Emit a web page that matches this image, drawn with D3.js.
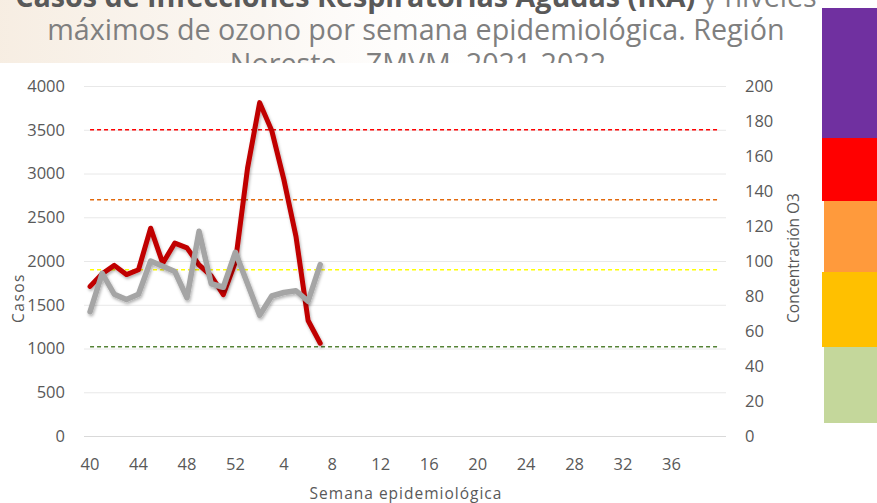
<!DOCTYPE html>
<html>
<head>
  <meta charset="utf-8" />
  <title>IRA y ozono - Región Noreste ZMVM</title>
  <script src="https://d3js.org/d3.v7.min.js"></script>
  <style>
    body {
      margin: 0;
      background: #fff;
    }
    svg {
      display: block;
      font-family: "Open Sans", sans-serif;
    }
    .tick-label {
      font-size: 16.5px;
      fill: #595959;
    }
    .axis-title {
      font-size: 15.5px;
      fill: #595959;
    }
    .grid {
      stroke-width: 1;
    }
  </style>
</head>
<body>

<svg width="877" height="503"></svg>

<script>
  // semanas epidemiológicas (40 de 2021 a 40 de 2022)
  const semanas = [40, 41, 42, 43, 44, 45, 46, 47, 48, 49, 50, 51, 52,
                   1, 2, 3, 4, 5, 6, 7, 8, 9, 10, 11, 12, 13, 14, 15, 16, 17, 18, 19, 20,
                   21, 22, 23, 24, 25, 26, 27, 28, 29, 30, 31, 32, 33, 34, 35, 36, 37, 38, 39, 40];

  // casos de IRA (eje izquierdo)
  const casos = [1710, 1855, 1950, 1845, 1900, 2375, 1975, 2205, 2150, 1955, 1830, 1615, 1990,
                 3060, 3810, 3490, 2930, 2280, 1320, 1060];

  // concentración máxima de ozono, ppb (eje derecho)
  const ozono = [71, 93, 81, 78, 81, 100, 97, 94, 79, 117, 87, 85, 105,
                 87, 69, 80, 82, 83, 77, 98];

  // límites del índice AIRE y SALUD para ozono (eje derecho)
  const limites = [175, 135, 95, 51];
  const limiteColores = ["#ff0000", "#e2690d", "#ffff00", "#548235"];

  const ticksCasos = [0, 500, 1000, 1500, 2000, 2500, 3000, 3500, 4000];
  const ticksO3 = [0, 20, 40, 60, 80, 100, 120, 140, 160, 180, 200];

  const bandaColores = ["#7030a0", "#ff0000", "#ff9a3c", "#ffc000", "#c4d79b"];

  const svg = d3.select("svg");
  const plotL = 84, plotR = 726, plotT = 86, plotB = 436;

  const x = d3.scalePoint()
    .domain(d3.range(semanas.length))
    .range([plotL, plotR])
    .padding(0.5);

  const yL = d3.scaleLinear().domain([0, 4000]).range([plotB, plotT]);
  const yR = d3.scaleLinear().domain([0, 200]).range([plotB, plotT]);

  // fondo tenue del encabezado
  const defs = svg.append("defs");
  const grad = defs.append("linearGradient").attr("id", "fondo");
  grad.append("stop").attr("offset", "0%").attr("stop-color", "#f3e6d6").attr("stop-opacity", 0.7);
  grad.append("stop").attr("offset", "30%").attr("stop-color", "#f7efe6").attr("stop-opacity", 0.5);
  grad.append("stop").attr("offset", "60%").attr("stop-color", "#ffffff").attr("stop-opacity", 0);
  svg.append("rect").attr("x", 0).attr("y", 0).attr("width", 877).attr("height", 64)
    .attr("fill", "url(#fondo)");

  const sombra = defs.append("filter").attr("id", "sombra")
    .attr("x", "-10%").attr("y", "-10%").attr("width", "120%").attr("height", "120%");
  sombra.append("feDropShadow")
    .attr("dx", 1).attr("dy", 2).attr("stdDeviation", 1.8)
    .attr("flood-color", "#000").attr("flood-opacity", 0.3);

  // título
  const title = svg.append("g").attr("text-anchor", "middle");
  const t2 = title.append("text")
    .attr("x", 416).attr("y", 40)
    .attr("fill", "#7f7f7f")
    .attr("font-size", 26)
    .text("máximos de ozono por semana epidemiológica. Región");
  const fs = 26 * 738 / t2.node().getComputedTextLength();
  t2.attr("font-size", fs);

  const t1 = title.append("text")
    .attr("x", 416).attr("y", 7)
    .attr("font-size", fs);
  t1.append("tspan").attr("font-weight", "bold").attr("fill", "#595959")
    .text("Casos de Infecciones Respiratorias Agudas (IRA)");
  t1.append("tspan").attr("fill", "#7f7f7f").text(" y niveles");

  title.append("text")
    .attr("x", 418).attr("y", 74)
    .attr("fill", "#7f7f7f")
    .attr("font-size", fs)
    .text("Noreste – ZMVM, 2021-2022");

  // área del gráfico
  svg.append("rect").attr("x", 0).attr("y", 63).attr("width", 818).attr("height", 440)
    .attr("fill", "#fff");

  // bandas de color del índice
  const bandaY = [8, 138, 201, 272, 347, 423];
  const bandaX = [822, 822, 824, 822, 824];
  svg.append("g").selectAll("rect")
    .data(bandaColores)
    .join("rect")
    .attr("x", (d, i) => bandaX[i])
    .attr("y", (d, i) => bandaY[i])
    .attr("width", (d, i) => 877 - bandaX[i])
    .attr("height", (d, i) => bandaY[i + 1] - bandaY[i])
    .attr("fill", d => d);

  // rejilla
  svg.append("g").selectAll("line")
    .data(ticksCasos)
    .join("line")
    .attr("class", "grid")
    .attr("x1", plotL).attr("x2", plotR)
    .attr("y1", d => yL(d) + 0.5).attr("y2", d => yL(d) + 0.5)
    .attr("stroke", d => d === 0 ? "#d9d9d9" : "#e8e8e8");

  // etiquetas de ejes
  svg.append("g").selectAll("text")
    .data(ticksCasos)
    .join("text")
    .attr("class", "tick-label")
    .attr("text-anchor", "end")
    .attr("x", 65)
    .attr("y", d => yL(d))
    .attr("dy", "0.36em")
    .text(d => d);

  svg.append("g").selectAll("text")
    .data(ticksO3)
    .join("text")
    .attr("class", "tick-label")
    .attr("text-anchor", "start")
    .attr("x", 745)
    .attr("y", d => yR(d))
    .attr("dy", "0.36em")
    .text(d => d);

  svg.append("g").selectAll("text")
    .data(d3.range(0, 49, 4))
    .join("text")
    .attr("class", "tick-label")
    .attr("text-anchor", "middle")
    .attr("x", i => x(i))
    .attr("y", 464)
    .attr("dy", "0.36em")
    .text(i => semanas[i]);

  svg.append("text")
    .attr("class", "axis-title")
    .attr("text-anchor", "middle")
    .attr("letter-spacing", "1px")
    .attr("x", 406).attr("y", 499)
    .text("Semana epidemiológica");

  svg.append("text")
    .attr("class", "axis-title")
    .attr("text-anchor", "middle")
    .attr("letter-spacing", "1.5px")
    .attr("transform", "translate(24,298) rotate(-90)")
    .text("Casos");

  svg.append("text")
    .attr("class", "axis-title")
    .attr("text-anchor", "middle")
    .attr("transform", "translate(799,258) rotate(-90)")
    .text("Concentración O3");

  // límites de ozono (líneas punteadas)
  svg.append("g").selectAll("line")
    .data(limites)
    .join("line")
    .attr("x1", x(0)).attr("x2", x(semanas.length - 1))
    .attr("y1", d => yR(d)).attr("y2", d => yR(d))
    .attr("stroke", (d, i) => limiteColores[i])
    .attr("stroke-width", 1.4)
    .attr("stroke-dasharray", "4,3");

  // series
  const lineCasos = d3.line().x((d, i) => x(i)).y(d => yL(d));
  const lineO3 = d3.line().x((d, i) => x(i)).y(d => yR(d));

  svg.append("path")
    .datum(casos)
    .attr("d", lineCasos)
    .attr("fill", "none")
    .attr("stroke", "#c00000")
    .attr("stroke-width", 5)
    .attr("stroke-linejoin", "round")
    .attr("stroke-linecap", "round")
    .attr("filter", "url(#sombra)");

  svg.append("path")
    .datum(ozono)
    .attr("d", lineO3)
    .attr("fill", "none")
    .attr("stroke", "#a5a5a5")
    .attr("stroke-width", 5.5)
    .attr("stroke-linejoin", "round")
    .attr("stroke-linecap", "round")
    .attr("filter", "url(#sombra)");
</script>

</body>
</html>
